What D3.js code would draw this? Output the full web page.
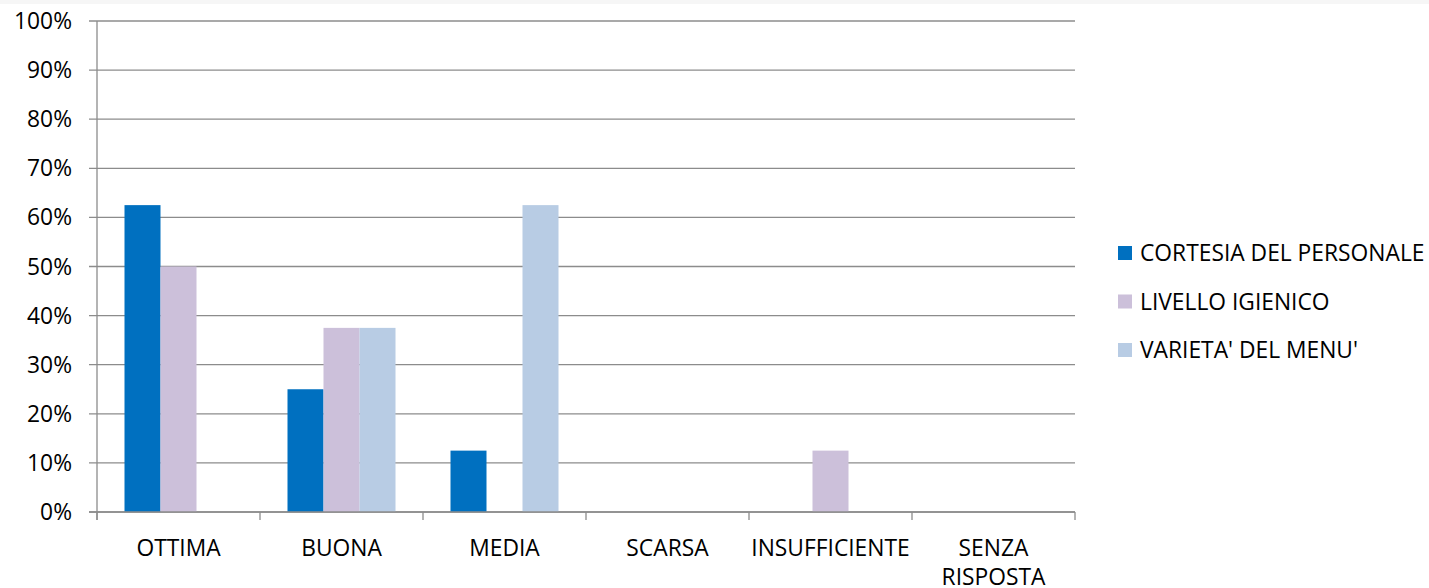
<!DOCTYPE html>
<html><head><meta charset="utf-8">
<script src="https://cdn.jsdelivr.net/npm/d3@7"></script>
<style>body{margin:0;background:#fff;overflow:hidden}svg{display:block}text{font-family:"Open Sans",sans-serif;fill:#000}</style>
</head><body><svg id="c" width="1429" height="588"></svg>
<script>
const categories = ["OTTIMA","BUONA","MEDIA","SCARSA","INSUFFICIENTE","SENZA RISPOSTA"];
const seriesNames = ["CORTESIA DEL PERSONALE","LIVELLO IGIENICO","VARIETA' DEL MENU'"];
const cortesia = [0.625,0.25,0.125,0,0,0];
const igienico = [0.5,0.375,0,0,0.125,0];
const varieta = [0,0.375,0.625,0,0,0];
const yTicks = [0,0.1,0.2,0.3,0.4,0.5,0.6,0.7,0.8,0.9,1.0];
const colors = ["#0070C0","#CCC0DA","#B8CCE4"];
const seriesValues = [cortesia, igienico, varieta];

const svg = d3.select("#c");
svg.append("rect").attr("x",0).attr("y",0).attr("width",1429).attr("height",4).attr("fill","#f6f6f6");
const L=97,R=1075,T=21,B=512;
const x = d3.scaleBand().domain(categories).range([L,R]).padding(0);
const inner = d3.scaleBand().domain(seriesNames).range([27.5, x.bandwidth()-27.5]).padding(0);
const y = d3.scaleLinear().domain([0,1]).range([B,T]);
const gc="#8c8c8c";
const fs=22.8;
svg.append("g").selectAll("line").data(yTicks).join("line")
 .attr("x1",L-8).attr("x2",R).attr("y1",d=>y(d)).attr("y2",d=>y(d))
 .attr("stroke",gc).attr("stroke-width",1.3);
svg.append("g").selectAll("text").data(yTicks).join("text")
 .attr("x",72).attr("y",d=>y(d)+8).attr("text-anchor","end")
 .attr("font-size",fs).text(d=>d3.format(".0%")(d));
categories.forEach((c,i)=>{
  seriesValues.forEach((vals,s)=>{
    if(vals[i]>0) svg.append("rect").attr("x",x(c)+inner(seriesNames[s])).attr("width",inner.bandwidth())
      .attr("y",y(vals[i])).attr("height",B-y(vals[i])).attr("fill",colors[s]);
  });
});
svg.append("line").attr("x1",L).attr("x2",L).attr("y1",T).attr("y2",B+8).attr("stroke",gc).attr("stroke-width",1.3);
svg.append("line").attr("x1",L-8).attr("x2",R).attr("y1",B).attr("y2",B).attr("stroke",gc).attr("stroke-width",1.3);
const xt = categories.map(c=>x(c)).concat([R]);
svg.append("g").selectAll("line").data(xt).join("line")
 .attr("x1",d=>d).attr("x2",d=>d).attr("y1",B).attr("y2",B+8).attr("stroke",gc).attr("stroke-width",1.3);
categories.forEach(c=>{
  const words = c==="SENZA RISPOSTA" ? ["SENZA","RISPOSTA"] : [c];
  words.forEach((w,k)=>{
    svg.append("text").attr("x",x(c)+x.bandwidth()/2).attr("y",556+k*29)
     .attr("text-anchor","middle").attr("font-size",fs).text(w);
  });
});
seriesNames.forEach((n,i)=>{
  const cy = 253 + i*48.5;
  svg.append("rect").attr("x",1118).attr("y",cy-7).attr("width",14).attr("height",14).attr("fill",colors[i]);
  svg.append("text").attr("x",1140).attr("y",cy+8).attr("font-size",fs).text(n);
});
</script></body></html>
